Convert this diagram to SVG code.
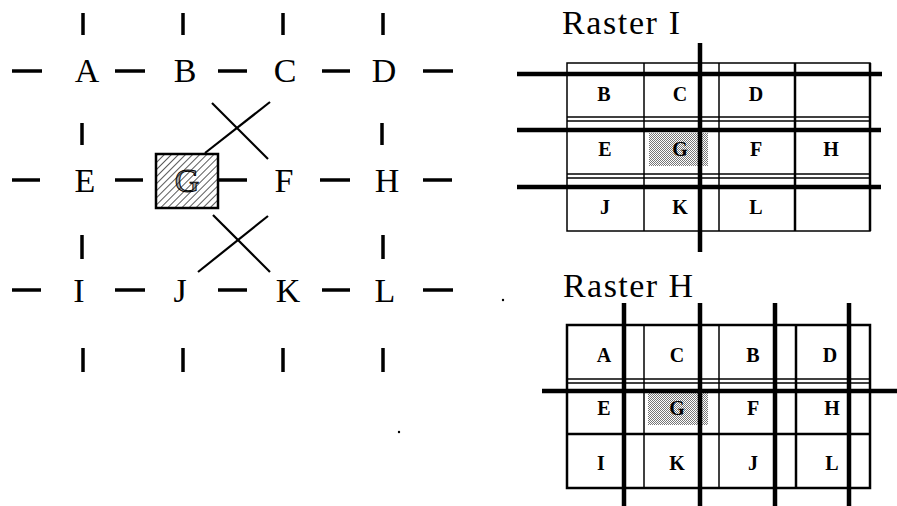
<svg xmlns="http://www.w3.org/2000/svg" width="897" height="506" viewBox="0 0 897 506">
  <defs>
    <pattern id="hatch" patternUnits="userSpaceOnUse" width="5" height="5" patternTransform="rotate(45)">
      <line x1="0" y1="-1" x2="0" y2="6" stroke="#000" stroke-width="1.3"/>
    </pattern>
    <pattern id="stipple" patternUnits="userSpaceOnUse" width="2" height="2">
      <rect x="0" y="0" width="1" height="1" fill="#777"/>
      <rect x="1" y="1" width="1" height="1" fill="#777"/>
    </pattern>
    <style>
      .big { font-family: "Liberation Serif", "Times New Roman", serif; font-size: 34px; fill: #000; }
      .cell { font-family: "Liberation Serif", "Times New Roman", serif; font-size: 20px; font-weight: bold; fill: #000; text-anchor: middle; }
      .node { text-anchor: middle; }
      .dash { stroke: #000; stroke-width: 3.5; fill: none; }
      .tick { stroke: #000; stroke-width: 3.5; fill: none; }
      .cross { stroke: #000; stroke-width: 2.2; fill: none; }
      .thin { stroke: #000; stroke-width: 1.5; fill: none; }
      .frame { stroke: #000; stroke-width: 2.5; fill: none; }
      .heavy { stroke: #000; stroke-width: 4.5; fill: none; }
    </style>
  </defs>
  <rect width="897" height="506" fill="#fff"/>

  <!-- connectors of the left grid: dashes, ticks and the two crossings -->
  <g id="connectors">
    <!-- horizontal dashes, row 1 -->
    <line class="dash" x1="12" y1="71" x2="42" y2="71"/>
    <line class="dash" x1="115" y1="71" x2="145" y2="71"/>
    <line class="dash" x1="218" y1="71" x2="247" y2="71"/>
    <line class="dash" x1="322" y1="71" x2="350" y2="71"/>
    <line class="dash" x1="423" y1="71" x2="453" y2="71"/>
    <!-- row 2 -->
    <line class="dash" x1="12" y1="180" x2="40" y2="180"/>
    <line class="dash" x1="115" y1="180" x2="143" y2="180"/>
    <line class="dash" x1="218" y1="180" x2="247" y2="180"/>
    <line class="dash" x1="320" y1="180" x2="350" y2="180"/>
    <line class="dash" x1="423" y1="180" x2="452" y2="180"/>
    <!-- row 3 -->
    <line class="dash" x1="12" y1="290" x2="41" y2="290"/>
    <line class="dash" x1="115" y1="290" x2="145" y2="290"/>
    <line class="dash" x1="218" y1="290" x2="247" y2="290"/>
    <line class="dash" x1="322" y1="290" x2="350" y2="290"/>
    <line class="dash" x1="423" y1="290" x2="453" y2="290"/>
    <!-- vertical ticks -->
    <line class="tick" x1="83" y1="13" x2="83" y2="35"/>
    <line class="tick" x1="183" y1="13" x2="183" y2="35"/>
    <line class="tick" x1="283" y1="13" x2="283" y2="35"/>
    <line class="tick" x1="383" y1="13" x2="383" y2="35"/>
    <line class="tick" x1="82" y1="123" x2="82" y2="145"/>
    <line class="tick" x1="382" y1="123" x2="382" y2="145"/>
    <line class="tick" x1="82" y1="235" x2="82" y2="259"/>
    <line class="tick" x1="383" y1="235" x2="383" y2="259"/>
    <line class="tick" x1="83" y1="348" x2="83" y2="372"/>
    <line class="tick" x1="183" y1="348" x2="183" y2="372"/>
    <line class="tick" x1="283" y1="348" x2="283" y2="372"/>
    <line class="tick" x1="383" y1="348" x2="383" y2="372"/>
    <!-- crossings -->
    <line class="cross" x1="270" y1="102" x2="205" y2="153"/>
    <line class="cross" x1="212" y1="103" x2="268" y2="159"/>
    <line class="cross" x1="268" y1="216" x2="198" y2="272"/>
    <line class="cross" x1="213" y1="215" x2="270" y2="272"/>
  </g>

  <!-- left grid nodes -->
  <g id="node-A"><text class="big node" x="87" y="82">A</text></g>
  <g id="node-B"><text class="big node" x="185" y="82">B</text></g>
  <g id="node-C"><text class="big node" x="285" y="82">C</text></g>
  <g id="node-D"><text class="big node" x="384" y="82">D</text></g>
  <g id="node-E"><text class="big node" x="85" y="192">E</text></g>
  <g id="node-G">
    <rect x="156" y="154" width="62" height="54" fill="url(#hatch)" stroke="#000" stroke-width="2.5"/>
    <text class="big node" x="187" y="192" fill="#fff" fill-opacity="0.35" stroke="#000" stroke-width="1">G</text>
  </g>
  <g id="node-F"><text class="big node" x="284" y="192">F</text></g>
  <g id="node-H"><text class="big node" x="387" y="192">H</text></g>
  <g id="node-I"><text class="big node" x="79" y="302">I</text></g>
  <g id="node-J"><text class="big node" x="180" y="302">J</text></g>
  <g id="node-K"><text class="big node" x="288" y="302">K</text></g>
  <g id="node-L"><text class="big node" x="385" y="302">L</text></g>

  <!-- stray dots -->
  <circle cx="399" cy="432" r="1.2" fill="#000"/>
  <circle cx="503" cy="300" r="1.2" fill="#000"/>

  <!-- Raster I -->
  <g id="raster-i">
    <text class="big" x="562" y="34" textLength="118" lengthAdjust="spacing">Raster I</text>
    <rect x="649" y="133" width="59" height="33" fill="url(#stipple)"/>
    <rect x="567" y="63" width="303" height="168" class="thin"/>
    <line class="frame" x1="795" y1="63" x2="795" y2="231"/>
    <line class="frame" x1="870" y1="63" x2="870" y2="231"/>
    <line class="thin" x1="644" y1="63" x2="644" y2="231"/>
    <line class="thin" x1="719" y1="63" x2="719" y2="231"/>
    <line class="thin" x1="567" y1="117" x2="870" y2="117"/>
    <line class="thin" x1="567" y1="121" x2="870" y2="121"/>
    <line class="thin" x1="567" y1="174" x2="870" y2="174"/>
    <line class="thin" x1="567" y1="178" x2="870" y2="178"/>
    <line class="heavy" x1="517" y1="74" x2="882" y2="74"/>
    <line class="heavy" x1="517" y1="130" x2="881" y2="130"/>
    <line class="heavy" x1="517" y1="187" x2="881" y2="187"/>
    <line class="heavy" x1="700" y1="43" x2="700" y2="252"/>
    <text class="cell" x="604" y="101">B</text>
    <text class="cell" x="680" y="101">C</text>
    <text class="cell" x="756" y="101">D</text>
    <text class="cell" x="605" y="156">E</text>
    <text class="cell" x="680" y="156">G</text>
    <text class="cell" x="756" y="156">F</text>
    <text class="cell" x="831" y="156">H</text>
    <text class="cell" x="605" y="214">J</text>
    <text class="cell" x="680" y="214">K</text>
    <text class="cell" x="756" y="214">L</text>
  </g>

  <!-- Raster H -->
  <g id="raster-h">
    <text class="big" x="563" y="297" textLength="130" lengthAdjust="spacing">Raster H</text>
    <rect x="648" y="393" width="60" height="32" fill="url(#stipple)"/>
    <rect x="567" y="325" width="303" height="163" class="frame"/>
    <line class="thin" x1="644" y1="325" x2="644" y2="488"/>
    <line class="thin" x1="719" y1="325" x2="719" y2="488"/>
    <line class="frame" x1="796" y1="325" x2="796" y2="488"/>
    <line class="thin" x1="567" y1="379" x2="870" y2="379"/>
    <line class="thin" x1="567" y1="383" x2="870" y2="383"/>
    <line class="frame" x1="567" y1="434" x2="870" y2="434"/>
    <line class="heavy" x1="542" y1="391" x2="897" y2="391"/>
    <line class="heavy" x1="624" y1="303" x2="624" y2="506"/>
    <line class="heavy" x1="700" y1="303" x2="700" y2="506"/>
    <line class="heavy" x1="775" y1="303" x2="775" y2="506"/>
    <line class="heavy" x1="849" y1="303" x2="849" y2="506"/>
    <text class="cell" x="604" y="362">A</text>
    <text class="cell" x="677" y="362">C</text>
    <text class="cell" x="753" y="362">B</text>
    <text class="cell" x="830" y="362">D</text>
    <text class="cell" x="604" y="415">E</text>
    <text class="cell" x="677" y="415">G</text>
    <text class="cell" x="753" y="415">F</text>
    <text class="cell" x="832" y="415">H</text>
    <text class="cell" x="601" y="470">I</text>
    <text class="cell" x="677" y="470">K</text>
    <text class="cell" x="753" y="470">J</text>
    <text class="cell" x="832" y="470">L</text>
  </g>
</svg>
